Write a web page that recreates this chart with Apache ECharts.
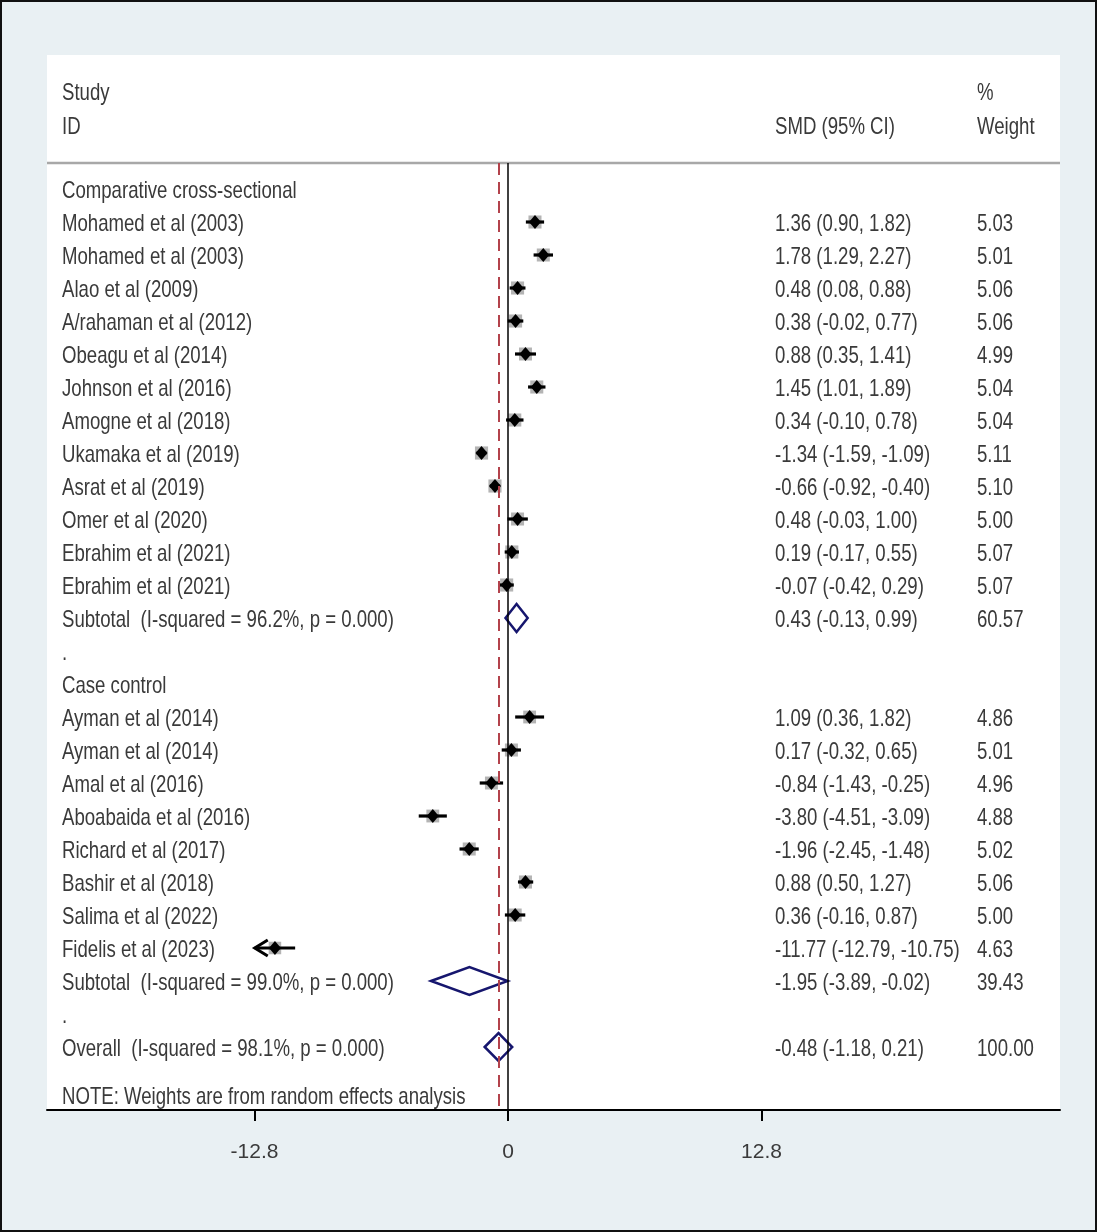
<!DOCTYPE html>
<html><head><meta charset="utf-8">
<script src="https://cdn.jsdelivr.net/npm/echarts@6/dist/echarts.min.js"></script>
<style>html,body{margin:0;padding:0;background:#fff}#c{width:1097px;height:1232px}</style>
</head><body><div id="c"></div>
<script>
// ---- data ----
const rowKinds = ['group','study','study','study','study','study','study','study','study','study','study','study','study','pooled','blank',
                  'group','study','study','study','study','study','study','study','study','pooled','blank','pooled'];
const rowLabels = ['Comparative cross-sectional','Mohamed et al (2003)','Mohamed et al (2003)','Alao et al (2009)','A/rahaman et al (2012)',
  'Obeagu et al (2014)','Johnson et al (2016)','Amogne et al (2018)','Ukamaka et al (2019)','Asrat et al (2019)','Omer et al (2020)',
  'Ebrahim et al (2021)','Ebrahim et al (2021)','Subtotal  (I-squared = 96.2%, p = 0.000)','.',
  'Case control','Ayman et al (2014)','Ayman et al (2014)','Amal et al (2016)','Aboabaida et al (2016)','Richard et al (2017)',
  'Bashir et al (2018)','Salima et al (2022)','Fidelis et al (2023)','Subtotal  (I-squared = 99.0%, p = 0.000)','.',
  'Overall  (I-squared = 98.1%, p = 0.000)'];
const smd    = [null,1.36,1.78,0.48,0.38,0.88,1.45,0.34,-1.34,-0.66,0.48,0.19,-0.07,0.43,null,
                null,1.09,0.17,-0.84,-3.80,-1.96,0.88,0.36,-11.77,-1.95,null,-0.48];
const ciLow  = [null,0.90,1.29,0.08,-0.02,0.35,1.01,-0.10,-1.59,-0.92,-0.03,-0.17,-0.42,-0.13,null,
                null,0.36,-0.32,-1.43,-4.51,-2.45,0.50,-0.16,-12.79,-3.89,null,-1.18];
const ciHigh = [null,1.82,2.27,0.88,0.77,1.41,1.89,0.78,-1.09,-0.40,1.00,0.55,0.29,0.99,null,
                null,1.82,0.65,-0.25,-3.09,-1.48,1.27,0.87,-10.75,-0.02,null,0.21];
const weights= [null,5.03,5.01,5.06,5.06,4.99,5.04,5.04,5.11,5.10,5.00,5.07,5.07,60.57,null,
                null,4.86,5.01,4.96,4.88,5.02,5.06,5.00,4.63,39.43,null,100.00];
const headerTop = ['Study','%'];
const headerBottom = ['ID','SMD (95% CI)','Weight'];
const noteText = 'NOTE: Weights are from random effects analysis';
const tickValues = [-12.8, 0, 12.8];
const shownMin = -12.8, shownMax = 12.8;
const overallRow = 26;

// ---- layout ----
const colStudyX = 62, colSmdX = 775, colWeightX = 977;
const FONT = '24px "Liberation Sans", Arial, sans-serif';
const SX = 0.775;
const TXT = '#3a3a3a';
const TEXT_DY = 2;

const texts = [];
texts.push({row:-2.97, x:colStudyX, t:headerTop[0]});
texts.push({row:-2.97, x:colWeightX, t:headerTop[1]});
texts.push({row:-1.94, x:colStudyX, t:headerBottom[0]});
texts.push({row:-1.94, x:colSmdX, t:headerBottom[1]});
texts.push({row:-1.94, x:colWeightX, t:headerBottom[2]});
rowLabels.forEach((lab,i)=>{
  texts.push({row:i, x:colStudyX, t:lab});
  if (smd[i] !== null) {
    texts.push({row:i, x:colSmdX, t: smd[i].toFixed(2)+' ('+ciLow[i].toFixed(2)+', '+ciHigh[i].toFixed(2)+')'});
    texts.push({row:i, x:colWeightX, t: weights[i].toFixed(2)});
  }
});
texts.push({row:27.48, x:colStudyX, t:noteText});

const studyData = [], pooledData = [];
rowKinds.forEach((k,i)=>{
  if (k==='study') studyData.push([i, smd[i], ciLow[i], ciHigh[i], weights[i]]);
  if (k==='pooled') pooledData.push([i, smd[i], ciLow[i], ciHigh[i], weights[i]]);
});

const chart = echarts.init(document.getElementById('c'), null, {renderer:'canvas'});
chart.setOption({
  backgroundColor:'#e9f0f3',
  animation:false,
  grid:{left:47, right:37, top:163, bottom:122, containLabel:false},
  xAxis:{type:'value', min:-23.28, max:27.87, z:5,
    axisLine:{show:true, onZero:false, lineStyle:{color:'#000', width:2}},
    axisTick:{show:true, customValues:tickValues, length:11, lineStyle:{color:'#000', width:2}},
    axisLabel:{show:true, customValues:tickValues, margin:32, color:TXT, fontSize:21,
      fontFamily:'"Liberation Sans Narrow","Arial Narrow","Liberation Sans",sans-serif',
      formatter:v=>String(v)},
    splitLine:{show:false}},
  yAxis:{type:'value', inverse:true, min:-0.788, max:27.909, show:false},
  graphic:[
    {type:'rect', z:-10, silent:true, shape:{x:47,y:55,width:1013,height:1055}, style:{fill:'#fff'}},
    {type:'line', z:1, silent:true, shape:{x1:47,y1:163,x2:1060,y2:163}, style:{stroke:'#a8a8a8', lineWidth:2.5}},
    {type:'rect', z:10, silent:true, shape:{x:1,y:1,width:1095,height:1230}, style:{fill:'none', stroke:'#111', lineWidth:2}}
  ],
  series:[
    {type:'custom', z:1, silent:true, data:[[0,0]],
      renderItem:()=>({type:'group', children:[]}),
      markLine:{silent:true, symbol:['none','none'], label:{show:false}, animation:false,
        data:[
          {xAxis:0, lineStyle:{color:'#000', width:1.5, type:'solid'}},
          {xAxis:smd[overallRow], lineStyle:{color:'#b3424b', width:2, type:[12,7]}}
        ]}},
    {type:'custom', z:3, silent:true, data:studyData,
      renderItem:(params, api)=>{
        const i=api.value(0), e=api.value(1), lo=api.value(2), hi=api.value(3), w=api.value(4);
        const y=api.coord([0,i])[1];
        const loC=Math.max(lo,shownMin), hiC=Math.min(hi,shownMax);
        const x0=api.coord([loC,i])[0], x1=api.coord([hiC,i])[0], xe=api.coord([e,i])[0];
        const s=13*Math.sqrt(w/5);
        const ch=[
          {type:'rect', shape:{x:xe-s/2,y:y-s/2,width:s,height:s}, style:{fill:'#b4b4b4'}},
          {type:'line', shape:{x1:x0,y1:y,x2:x1,y2:y}, style:{stroke:'#000', lineWidth:3.2}},
          {type:'polygon', shape:{points:[[xe-6,y],[xe,y-7],[xe+6,y],[xe,y+7]]}, style:{fill:'#000'}}
        ];
        if (lo <= shownMin+0.05) ch.push({type:'polyline', shape:{points:[[x0+13,y-8],[x0,y],[x0+13,y+8]]}, style:{stroke:'#000', lineWidth:3, fill:'none'}});
        if (hi >= shownMax-0.05) ch.push({type:'polyline', shape:{points:[[x1-13,y-8],[x1,y],[x1-13,y+8]]}, style:{stroke:'#000', lineWidth:3, fill:'none'}});
        return {type:'group', children:ch};
      }},
    {type:'custom', z:4, silent:true, data:pooledData,
      renderItem:(params, api)=>{
        const i=api.value(0), e=api.value(1), lo=api.value(2), hi=api.value(3);
        const y=api.coord([0,i])[1];
        const x0=api.coord([lo,i])[0], x1=api.coord([hi,i])[0], xe=api.coord([e,i])[0];
        return {type:'polygon', shape:{points:[[x0,y],[xe,y-14],[x1,y],[xe,y+14]]}, style:{fill:'none', stroke:'#16166e', lineWidth:2.5}};
      }},
    {type:'custom', z:5, silent:true, clip:false, data:texts.map((t,k)=>[t.row,k]),
      renderItem:(params, api)=>{
        const t=texts[params.dataIndex];
        const y=api.coord([0,t.row])[1]+TEXT_DY;
        return {type:'text', x:t.x, y:y, scaleX:SX, scaleY:1,
          style:{text:t.t, x:0, y:0, font:FONT, fill:TXT, align:'left', verticalAlign:'middle'}};
      }}
  ]
});
</script></body></html>
